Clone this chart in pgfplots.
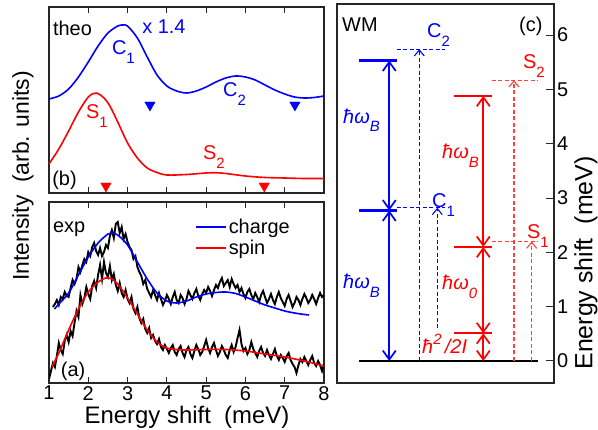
\documentclass[border=0pt]{standalone}
\usepackage{fontspec}
\setmainfont{Liberation Sans}
\usepackage{pgfplots}
\pgfplotsset{compat=1.18}
\usetikzlibrary{arrows.meta}

\newcommand{\sub}[1]{\raisebox{-0.45em}{\fontsize{15}{15}\selectfont #1}}
\newcommand{\hb}{\textit{ħω}}

\pgfplotsset{
  panel/.style={
    scale only axis,
    axis line style={black!85, line width=1.2bp},
    tick style={black!85, line width=1bp},
    tick align=inside,
    major tick length=6bp,
    every tick label/.append style={font=\fontsize{20}{24}\selectfont},
    /pgf/number format/assume math mode=true,
  },
}
\tikzset{
  lev/.style={line width=2.2bp},
  arr/.style={line width=1.7bp, {Straight Barb[length=9bp,width=13bp]}-{Straight Barb[length=9bp,width=13bp]}},
  darr/.style={line width=1.1bp, dash pattern=on 4bp off 2.5bp, -{Straight Barb[length=6bp,width=10bp]}},
  dl/.style={line width=1.1bp, dash pattern=on 4bp off 2.5bp},
}

\begin{document}
\begin{tikzpicture}[font=\fontsize{20}{24}\selectfont]
\useasboundingbox (0,0) rectangle (598bp,430bp);

% ---------- (b) theory ----------
\begin{axis}[panel, at={(49bp,237bp)}, anchor=south west,
  width=275bp, height=186bp,
  xmin=1, xmax=8, ymin=0, ymax=186,
  xtick={1,...,8}, xticklabels=\empty, ytick=\empty, clip=false]
\addplot[blue, line width=1.6bp, smooth] coordinates {
(1.0,94)(1.25,97)(1.5,104)(1.75,116)(2.0,131)(2.25,147)(2.5,160)(2.75,167)(2.88,168)
(3.0,167)(3.25,155)(3.5,136)(3.75,118)(4.0,107)(4.25,102)(4.5,100)(4.75,102)(5.0,106)
(5.25,111)(5.5,115)(5.75,117)(6.0,116)(6.25,113)(6.5,108)(6.75,103)(7.0,99)(7.25,96)
(7.5,95)(7.75,95.5)(8.0,97)};
\addplot[red, line width=1.6bp, smooth] coordinates {
(1.0,29)(1.25,44)(1.5,62)(1.75,81)(2.0,96)(2.2,100)(2.4,95)(2.55,87)(2.75,71)(3.0,50)
(3.25,35)(3.5,25)(3.75,20.5)(4.0,18)(4.5,18.5)(5.0,20)(5.25,20.3)(5.5,19.5)(6.0,17)
(6.5,15.5)(7.0,15)(7.5,14.5)(8.0,14.5)};
\addplot[only marks, blue, mark=triangle*, mark size=6bp, mark options={rotate=180}]
  coordinates {(3.57,88)(7.26,88)};
\addplot[only marks, red, mark=triangle*, mark size=6bp, mark options={rotate=180}]
  coordinates {(2.45,7)(6.48,7)};
\node[anchor=base west, inner sep=0] at (axis cs:1.10,157) {theo};
\node[anchor=base west, inner sep=0, blue] at (axis cs:3.37,159) {x 1.4};
\node[anchor=base west, inner sep=0, blue] at (axis cs:2.60,138) {C\sub{1}};
\node[anchor=base west, inner sep=0, blue] at (axis cs:5.43,96) {C\sub{2}};
\node[anchor=base west, inner sep=0, red] at (axis cs:1.94,74) {S\sub{1}};
\node[anchor=base west, inner sep=0, red] at (axis cs:4.92,33) {S\sub{2}};
\node[anchor=base west, inner sep=0] at (axis cs:1.08,7) {(b)};
\end{axis}

% ---------- (a) experiment ----------
\begin{axis}[panel, at={(49bp,47bp)}, anchor=south west,
  width=275bp, height=181bp,
  xmin=1, xmax=8, ymin=0, ymax=181,
  xtick={1,...,8}, ytick=\empty,
  xticklabel style={inner sep=1bp, yshift=-2bp},
  legend style={draw=none, fill=none, at={(0.52,0.93)}, anchor=north west,
    font=\fontsize{20}{24}\selectfont, row sep=1bp},
  legend cell align=left,
  legend image code/.code={\draw[#1, line width=1.6bp] (0bp,0bp) -- (30bp,0bp);}]
\addplot[black, line width=1.9bp, forget plot] coordinates {
(1.10,76)(1.15,79)(1.20,83)(1.25,78)(1.30,86)(1.35,84)(1.40,91)(1.45,87)(1.50,86)
(1.55,95)(1.60,103)(1.65,99)(1.70,104)(1.75,116)(1.80,111)(1.85,118)(1.90,124)
(1.95,121)(2.00,131)(2.05,127)(2.10,136)(2.15,140)(2.20,132)(2.25,128)(2.30,135)
(2.35,127)(2.40,131)(2.45,138)(2.50,135)(2.55,147)(2.60,153)(2.65,145)(2.70,159)
(2.75,161)(2.80,150)(2.85,156)(2.90,144)(2.95,149)(3.00,141)(3.05,136)(3.10,133)
(3.15,124)(3.20,127)(3.25,116)(3.30,111)(3.35,107)(3.40,99)(3.45,103)(3.50,94)
(3.55,90)(3.60,86)(3.65,93)(3.70,88)(3.75,83)(3.80,90)(3.85,84)(3.90,78)(3.95,82)
(4.00,88)(4.05,84)(4.10,79)(4.15,86)(4.20,91)(4.25,83)(4.30,80)(4.35,88)(4.40,85)
(4.45,79)(4.50,84)(4.55,92)(4.60,88)(4.65,84)(4.70,90)(4.75,94)(4.80,87)(4.85,83)
(4.90,89)(4.95,93)(5.00,90)(5.05,96)(5.10,92)(5.15,87)(5.20,93)(5.25,98)(5.30,95)
(5.35,101)(5.40,105)(5.45,97)(5.50,100)(5.55,103)(5.60,96)(5.65,104)(5.70,99)
(5.75,95)(5.80,98)(5.85,91)(5.90,95)(5.95,89)(6.00,85)(6.05,91)(6.10,94)(6.15,88)
(6.20,84)(6.25,90)(6.30,86)(6.35,81)(6.40,88)(6.45,92)(6.50,86)(6.55,80)(6.60,84)
(6.65,89)(6.70,83)(6.75,79)(6.80,86)(6.85,91)(6.90,85)(6.95,81)(7.00,77)(7.05,84)
(7.10,88)(7.15,82)(7.20,76)(7.25,80)(7.30,86)(7.35,83)(7.40,78)(7.45,84)(7.50,89)
(7.55,85)(7.60,80)(7.65,83)(7.70,88)(7.75,84)(7.80,79)(7.85,85)(7.90,90)(7.95,86)
(8.00,88)};
\addplot[black, line width=1.9bp, forget plot] coordinates {
(1.00,4)(1.05,12)(1.10,20)(1.15,16)(1.20,27)(1.25,40)(1.30,33)(1.35,29)(1.40,42)
(1.45,48)(1.50,41)(1.55,52)(1.60,47)(1.65,60)(1.70,72)(1.75,66)(1.80,88)(1.85,79)
(1.90,85)(1.95,96)(2.00,89)(2.05,84)(2.10,97)(2.15,102)(2.20,95)(2.25,108)(2.30,118)
(2.35,104)(2.40,121)(2.45,110)(2.50,106)(2.55,117)(2.60,103)(2.65,109)(2.70,98)
(2.75,92)(2.80,100)(2.85,90)(2.90,86)(2.95,93)(3.00,84)(3.05,80)(3.10,86)(3.15,74)
(3.20,70)(3.25,76)(3.30,65)(3.35,60)(3.40,64)(3.45,54)(3.50,50)(3.55,55)(3.60,45)
(3.65,48)(3.70,42)(3.75,39)(3.80,44)(3.85,36)(3.90,33)(3.95,38)(4.00,34)(4.05,30)
(4.10,35)(4.15,38)(4.20,31)(4.25,28)(4.30,34)(4.35,37)(4.40,30)(4.45,26)(4.50,33)
(4.55,36)(4.60,29)(4.65,25)(4.70,32)(4.75,38)(4.80,34)(4.85,28)(4.90,31)(4.95,37)
(5.00,43)(5.05,35)(5.10,30)(5.15,36)(5.20,40)(5.25,33)(5.30,27)(5.35,31)(5.40,37)
(5.45,33)(5.50,28)(5.55,25)(5.60,33)(5.65,38)(5.70,31)(5.75,36)(5.80,45)(5.85,53)
(5.90,39)(5.95,32)(6.00,35)(6.05,29)(6.10,33)(6.15,41)(6.20,34)(6.25,30)(6.30,26)
(6.35,32)(6.40,36)(6.45,30)(6.50,27)(6.55,33)(6.60,28)(6.65,24)(6.70,29)(6.75,34)
(6.80,27)(6.85,23)(6.90,28)(6.95,25)(7.00,21)(7.05,27)(7.10,30)(7.15,23)(7.20,19)
(7.25,16)(7.30,10)(7.35,18)(7.40,24)(7.45,21)(7.50,26)(7.55,22)(7.60,18)(7.65,23)
(7.70,27)(7.75,20)(7.80,17)(7.85,22)(7.90,18)(7.95,12)(8.00,19)};
\addplot[blue, line width=1.6bp, smooth] coordinates {
(1.14,74)(1.25,79)(1.5,90)(1.75,108)(2.0,126)(2.25,140)(2.5,149)(2.6,150)(2.75,148)
(3.0,138)(3.25,121)(3.5,104)(3.75,90)(4.0,82)(4.25,80)(4.5,82)(4.75,86)(5.0,89)
(5.25,90.5)(5.5,91)(5.75,89.5)(6.0,86)(6.25,82)(6.5,78)(6.75,75)(7.0,72)(7.25,70)
(7.5,68.5)(7.62,68)};
\addlegendentry{charge}
\addplot[red, line width=1.6bp, smooth] coordinates {
(1.07,16)(1.25,30)(1.5,53)(1.75,74)(2.0,91)(2.25,101)(2.45,105)(2.6,104)(2.75,99)
(3.0,85)(3.25,69)(3.5,53)(3.75,41)(4.0,35)(4.25,33.5)(4.5,33)(5.0,33.5)(5.5,33.5)
(6.0,32)(6.5,29)(7.0,26)(7.5,22)(8.0,17)};
\addlegendentry{spin}
\node[anchor=base west, inner sep=0] at (axis cs:1.10,151) {exp};
\node[anchor=base west, inner sep=0] at (axis cs:1.30,7) {(a)};
\end{axis}

% ---------- (c) level scheme ----------
\begin{axis}[panel, at={(337bp,47bp)}, anchor=south west,
  width=217bp, height=379bp,
  xmin=337, xmax=554, ymin=-0.405, ymax=6.571,
  xtick=\empty, ytick={0,...,6}, ytick pos=right, yticklabel pos=right,
  yticklabel style={inner sep=1bp, xshift=2bp},
  major tick length=8bp, clip=false]
\addplot[black, lev] coordinates {(359.3,0)(538.3,0)};
% charge side
\addplot[blue, lev] coordinates {(359.3,5.53)(396.7,5.53)};
\addplot[blue, lev] coordinates {(359.3,2.77)(396.7,2.77)};
\addplot[blue, arr] coordinates {(389.3,0)(389.3,2.77)};
\addplot[blue, arr] coordinates {(389.3,2.77)(389.3,5.53)};
\addplot[blue, dl] coordinates {(396.7,5.74)(445,5.74)};
\addplot[blue, darr] coordinates {(419.3,0)(419.3,5.74)};
\addplot[blue, dl] coordinates {(396.7,2.82)(445,2.82)};
\addplot[blue, darr] coordinates {(437.3,0.6)(437.3,2.82)};
% spin side
\addplot[red, lev] coordinates {(454,4.88)(491.7,4.88)};
\addplot[red, lev] coordinates {(454,2.10)(491.7,2.10)};
\addplot[red, lev] coordinates {(454,0.51)(491.7,0.51)};
\addplot[red, arr] coordinates {(483.3,0)(483.3,0.51)};
\addplot[red, arr] coordinates {(483.3,0.51)(483.3,2.10)};
\addplot[red, arr] coordinates {(483.3,2.10)(483.3,4.88)};
\addplot[red!75, dl] coordinates {(491.7,5.17)(538.3,5.17)};
\addplot[red!75, darr] coordinates {(514,0)(514,5.17)};
\addplot[red!75, dl] coordinates {(491.7,2.20)(538.3,2.20)};
\addplot[red!75, darr] coordinates {(531.7,0)(531.7,2.20)};
\node[anchor=base west, inner sep=0] at (axis cs:342,6.06) {WM};
\node[anchor=base west, inner sep=0] at (axis cs:519,6.07) {(c)};
\node[anchor=base west, inner sep=0, blue] at (axis cs:427,5.95) {C\sub{2}};
\node[anchor=base west, inner sep=0, blue] at (axis cs:432,2.82) {C\sub{1}};
\node[anchor=base west, inner sep=0, blue] at (axis cs:343,4.38) {\hb\sub{\textit{B}}};
\node[anchor=base west, inner sep=0, blue] at (axis cs:343,1.34) {\hb\sub{\textit{B}}};
\node[anchor=base west, inner sep=0, red] at (axis cs:523,5.39) {S\sub{2}};
\node[anchor=base west, inner sep=0, red] at (axis cs:527,2.26) {S\sub{1}};
\node[anchor=base west, inner sep=0, red] at (axis cs:442,3.72) {\hb\sub{\textit{B}}};
\node[anchor=base west, inner sep=0, red] at (axis cs:442,1.31) {\hb\sub{\textit{0}}};
\node[anchor=base west, inner sep=0, red] at (axis cs:422,0.13) {\textit{ħ}\raisebox{0.45em}{\fontsize{15}{15}\selectfont\textit{2}}\textit{\,/2I}};
\end{axis}

\node[rotate=90, font=\fontsize{23}{27}\selectfont] at (23bp,254bp) {Intensity\ \ (arb. units)};
\node[anchor=base, font=\fontsize{24}{28}\selectfont] at (187bp,7bp) {Energy shift\ \ (meV)};
\node[rotate=90, font=\fontsize{25}{29}\selectfont] at (586bp,167bp) {Energy shift\ \ (meV)};
\end{tikzpicture}
\end{document}
